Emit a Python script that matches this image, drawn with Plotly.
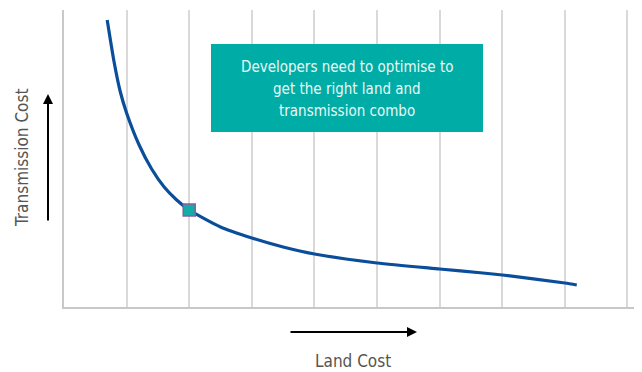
import plotly.graph_objects as go

# Curve data (land cost units, transmission cost units)
land_cost = [0.69, 0.8, 0.9, 1.0, 1.2, 1.4, 1.6, 1.8, 2.0, 2.5, 3.0, 3.5, 4.0, 5.0, 6.0, 6.69, 7.0, 8.0, 8.19]
trans_cost = [287, 245, 215, 194, 162, 138, 120, 107, 97, 80, 69, 60, 53, 44, 38, 34, 32, 24, 22]

optimum_x = [2.0]
optimum_y = [97]

grid_ticks = [1, 2, 3, 4, 5, 6, 7, 8, 9]

box_lines = ["Developers need to optimise to", "get the right land and", "transmission combo"]

FONT = "Liberation Sans Narrow, DejaVu Sans Condensed, Roboto, sans-serif"

fig = go.Figure()
fig.add_trace(go.Scatter(x=land_cost, y=trans_cost, mode="lines",
                         line=dict(color="#0A4E9B", width=3.2, shape="spline", smoothing=0.6),
                         hoverinfo="skip", showlegend=False))
fig.add_trace(go.Scatter(x=optimum_x, y=optimum_y, mode="markers",
                         marker=dict(symbol="square", size=12, color="#13ADA6",
                                     line=dict(color="#8E5BA6", width=1.5)),
                         showlegend=False))

# plot area in page pixels: x 64..640, y 10..307 (576 x 297)
def px(x):
    return (x - 64) / 576

def py(y):
    return (307 - y) / 297

fig.add_shape(type="rect", xref="paper", yref="paper",
              x0=px(211), x1=px(483), y0=py(132), y1=py(44),
              fillcolor="#00ADA6", line=dict(width=0), layer="above")

for i, line in enumerate(box_lines):
    fig.add_annotation(xref="paper", yref="paper", x=px(347), y=py(67.5 + 21.7 * i),
                       xanchor="center", yanchor="middle", text=line,
                       showarrow=False, align="center",
                       font=dict(family=FONT, size=15, color="#EAF7F5"))

# Axis titles
fig.add_annotation(xref="paper", yref="paper", x=px(22), y=py(158),
                   xanchor="center", yanchor="middle",
                   text="Transmission Cost", textangle=-90, showarrow=False,
                   font=dict(family=FONT, size=17, color="#555555"))
fig.add_annotation(xref="paper", yref="paper", x=px(353), y=py(361),
                   xanchor="center", yanchor="middle",
                   text="Land Cost", showarrow=False,
                   font=dict(family=FONT, size=17, color="#555555"))

# Arrows
fig.add_annotation(xref="paper", yref="paper", x=px(48), y=py(94),
                   ax=0, ay=128, text="", showarrow=True, arrowhead=2, arrowsize=1,
                   arrowwidth=2, arrowcolor="#000000")
fig.add_annotation(xref="paper", yref="paper", x=px(417), y=py(332),
                   ax=-128, ay=0, text="", showarrow=True, arrowhead=2, arrowsize=1,
                   arrowwidth=2, arrowcolor="#000000")

# page body has an 8px margin, so the figure is offset by (8, 8)
fig.update_layout(
    width=634, height=364,
    margin=dict(l=56, r=2, t=2, b=65),
    paper_bgcolor="white", plot_bgcolor="white",
    xaxis=dict(range=[0, 9.2], tickvals=grid_ticks, showticklabels=False,
               showgrid=True, gridcolor="#D9D9D9", gridwidth=1.5,
               zeroline=False, showline=True, linecolor="#C8C8C8", linewidth=2),
    yaxis=dict(range=[0, 297], showticklabels=False, showgrid=False,
               zeroline=False, showline=True, linecolor="#C8C8C8", linewidth=2),
    showlegend=False,
)

fig.write_html("out.html")
